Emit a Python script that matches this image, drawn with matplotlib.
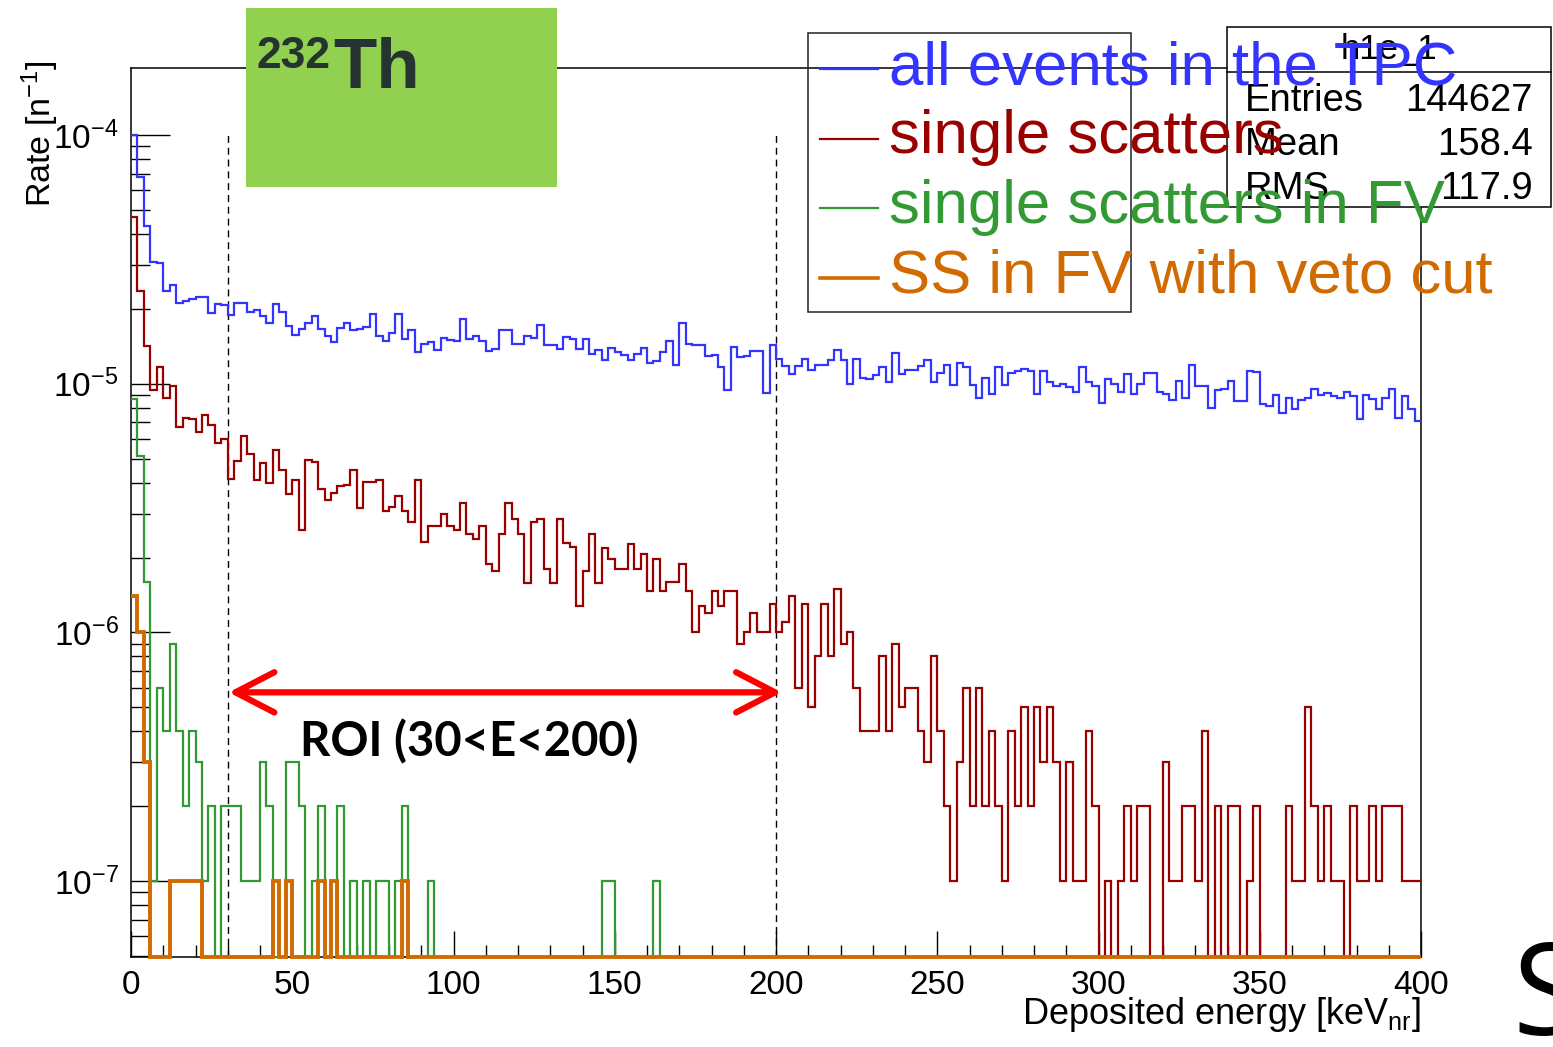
import numpy as np
import matplotlib
matplotlib.use("Agg")
import matplotlib.pyplot as plt
from matplotlib import font_manager
from matplotlib.patches import Rectangle
from matplotlib.lines import Line2D
from matplotlib.ticker import LogLocator, MultipleLocator, NullFormatter

names = {f.name for f in font_manager.fontManager.ttflist}
SANS = "Liberation Sans"
NARROW = "Liberation Sans Narrow" if "Liberation Sans Narrow" in names else None
plt.rcParams["font.family"] = [SANS, "DejaVu Sans"]
plt.rcParams["mathtext.fontset"] = "custom"
plt.rcParams["mathtext.rm"] = SANS
plt.rcParams["mathtext.it"] = SANS + ":italic"
plt.rcParams["mathtext.bf"] = SANS + ":bold"

# ---- data: rate per 2 keV bin, 0..400 keVnr (200 bins) ----
bin_width = 2.0
n_bins = 200

all_tpc = [1.0e-4, 6.8e-5, 4.3e-5, 3.1e-5, 3.05e-5, 2.37e-5, 2.5e-5, 2.12e-5, 2.15e-5, 2.19e-5,
           2.23e-5, 2.23e-5, 1.92e-5, 2.1e-5, 2.07e-5, 1.89e-5, 2.12e-5, 2.11e-5, 1.94e-5, 1.97e-5,
           1.87e-5, 1.75e-5, 2.1e-5, 1.95e-5, 1.7e-5, 1.57e-5, 1.66e-5, 1.76e-5, 1.87e-5, 1.66e-5,
           1.56e-5, 1.47e-5, 1.67e-5, 1.76e-5, 1.65e-5, 1.66e-5, 1.69e-5, 1.9e-5, 1.55e-5, 1.49e-5,
           1.6e-5, 1.9e-5, 1.51e-5, 1.65e-5, 1.34e-5, 1.45e-5, 1.47e-5, 1.37e-5, 1.52e-5, 1.5e-5,
           1.48e-5, 1.82e-5, 1.51e-5, 1.56e-5, 1.48e-5, 1.35e-5, 1.38e-5, 1.65e-5, 1.65e-5, 1.45e-5,
           1.45e-5, 1.55e-5, 1.53e-5, 1.73e-5, 1.43e-5, 1.43e-5, 1.38e-5, 1.54e-5, 1.51e-5, 1.38e-5,
           1.51e-5, 1.32e-5, 1.37e-5, 1.25e-5, 1.39e-5, 1.34e-5, 1.3e-5, 1.25e-5, 1.32e-5, 1.39e-5,
           1.21e-5, 1.23e-5, 1.34e-5, 1.49e-5, 1.19e-5, 1.76e-5, 1.45e-5, 1.43e-5, 1.43e-5, 1.29e-5,
           1.3e-5, 1.17e-5, 9.4e-6, 1.4e-5, 1.28e-5, 1.29e-5, 1.35e-5, 1.35e-5, 9.2e-6, 1.43e-5,
           1.26e-5, 1.18e-5, 1.09e-5, 1.18e-5, 1.26e-5, 1.14e-5, 1.19e-5, 1.19e-5, 1.24e-5, 1.37e-5,
           1.24e-5, 1.0e-5, 1.26e-5, 1.05e-5, 1.04e-5, 1.08e-5, 1.17e-5, 1.02e-5, 1.33e-5, 1.09e-5,
           1.14e-5, 1.14e-5, 1.18e-5, 1.24e-5, 1.02e-5, 1.1e-5, 1.19e-5, 9.9e-6, 1.21e-5, 1.17e-5,
           9.9e-6, 8.8e-6, 1.05e-5, 9.1e-6, 1.17e-5, 9.9e-6, 1.1e-5, 1.13e-5, 1.15e-5, 1.13e-5,
           9.1e-6, 1.13e-5, 1.02e-5, 9.8e-6, 1.0e-5, 9.7e-6, 9.3e-6, 1.17e-5, 1.02e-5, 9.8e-6,
           8.4e-6, 1.04e-5, 1.0e-5, 9.3e-6, 1.09e-5, 9.1e-6, 1.0e-5, 1.1e-5, 1.1e-5, 9.3e-6,
           9.1e-6, 8.6e-6, 1.03e-5, 8.8e-6, 1.19e-5, 9.8e-6, 9.8e-6, 8.0e-6, 9.4e-6, 9.5e-6,
           1.03e-5, 8.5e-6, 8.5e-6, 1.13e-5, 1.11e-5, 8.3e-6, 8.1e-6, 9.0e-6, 7.6e-6, 8.8e-6,
           7.9e-6, 8.6e-6, 8.8e-6, 9.5e-6, 9.0e-6, 9.2e-6, 8.9e-6, 8.8e-6, 9.3e-6, 8.9e-6,
           7.2e-6, 9.0e-6, 8.7e-6, 7.9e-6, 8.8e-6, 9.5e-6, 7.3e-6, 8.9e-6, 7.9e-6, 7.1e-6]

single_scatters = [4.67e-5, 2.35e-5, 1.42e-5, 9.45e-6, 1.17e-5, 8.8e-6, 9.75e-6, 6.7e-6, 7.3e-6, 7.2e-6,
                   6.4e-6, 7.5e-6, 6.8e-6, 5.8e-6, 6.0e-6, 4.14e-6, 4.88e-6, 6.16e-6, 5.22e-6, 4.11e-6,
                   4.8e-6, 3.97e-6, 5.41e-6, 4.48e-6, 3.61e-6, 4.11e-6, 2.59e-6, 4.92e-6, 4.85e-6, 3.77e-6,
                   3.4e-6, 3.65e-6, 3.87e-6, 3.9e-6, 4.51e-6, 3.15e-6, 4.04e-6, 4.04e-6, 4.11e-6, 3.07e-6,
                   3.18e-6, 3.52e-6, 3.07e-6, 2.77e-6, 4.11e-6, 2.3e-6, 2.68e-6, 2.68e-6, 3.0e-6, 2.67e-6,
                   2.59e-6, 3.31e-6, 2.49e-6, 2.38e-6, 2.67e-6, 1.89e-6, 1.77e-6, 2.48e-6, 3.31e-6, 2.87e-6,
                   2.48e-6, 1.58e-6, 2.78e-6, 2.87e-6, 1.79e-6, 1.58e-6, 2.87e-6, 2.29e-6, 2.2e-6, 1.28e-6,
                   1.77e-6, 2.48e-6, 1.58e-6, 2.18e-6, 1.98e-6, 1.79e-6, 1.79e-6, 2.27e-6, 1.79e-6, 2.07e-6,
                   1.47e-6, 1.98e-6, 1.47e-6, 1.59e-6, 1.59e-6, 1.89e-6, 1.47e-6, 1.0e-6, 1.28e-6, 1.2e-6,
                   1.47e-6, 1.28e-6, 1.47e-6, 1.47e-6, 9e-7, 1.0e-6, 1.2e-6, 1.0e-6, 1.0e-6, 1.3e-6,
                   10e-7, 11e-7, 14e-7, 6e-7, 13e-7, 5e-7, 8e-7, 13e-7, 8e-7, 15e-7,
                   9e-7, 10e-7, 6e-7, 4e-7, 4e-7, 4e-7, 8e-7, 4e-7, 9e-7, 5e-7,
                   6e-7, 6e-7, 4e-7, 3e-7, 8e-7, 4e-7, 2e-7, 1e-7, 3e-7, 6e-7,
                   2e-7, 6e-7, 2e-7, 4e-7, 2e-7, 1e-7, 4e-7, 2e-7, 5e-7, 2e-7,
                   5e-7, 3e-7, 5e-7, 3e-7, 1e-7, 3e-7, 1e-7, 1e-7, 4e-7, 2e-7,
                   0, 1e-7, 0, 1e-7, 2e-7, 1e-7, 2e-7, 2e-7, 0, 0,
                   3e-7, 1e-7, 1e-7, 2e-7, 2e-7, 1e-7, 4e-7, 0, 2e-7, 0,
                   2e-7, 2e-7, 0, 1e-7, 2e-7, 0, 0, 0, 0, 2e-7,
                   1e-7, 1e-7, 5e-7, 2e-7, 1e-7, 2e-7, 1e-7, 1e-7, 0, 2e-7,
                   1e-7, 1e-7, 2e-7, 1e-7, 2e-7, 2e-7, 2e-7, 1e-7, 1e-7, 1e-7]

# sparse series: bin index -> rate (other bins empty)
ss_fv = {0: 8.7e-6, 1: 5.14e-6, 2: 1.6e-6, 3: 1e-7, 4: 6e-7, 5: 4e-7, 6: 9e-7, 7: 4e-7, 8: 2e-7,
         9: 4e-7, 10: 3e-7, 11: 1e-7, 12: 2e-7, 14: 2e-7, 15: 2e-7, 16: 2e-7, 17: 1e-7, 18: 1e-7,
         19: 1e-7, 20: 3e-7, 21: 2e-7, 24: 3e-7, 25: 3e-7, 26: 2e-7, 28: 1e-7, 29: 2e-7, 31: 1e-7,
         32: 2e-7, 34: 1e-7, 36: 1e-7, 38: 1e-7, 39: 1e-7, 41: 1e-7, 42: 2e-7, 46: 1e-7,
         73: 1e-7, 74: 1e-7, 81: 1e-7}
ss_fv_veto = {0: 1.4e-6, 1: 1.0e-6, 2: 3e-7, 6: 1e-7, 7: 1e-7, 8: 1e-7, 9: 1e-7, 10: 1e-7,
              22: 1e-7, 24: 1e-7, 29: 1e-7, 31: 1e-7, 42: 1e-7}

labels = ["all events in the TPC", "single scatters", "single scatters in FV", "SS in FV with veto cut"]
colors = ["#3434ff", "#990000", "#339933", "#d16a00"]
roi = (30, 200)
stats = [("Entries", "144627"), ("Mean", "158.4"), ("RMS", "117.9")]

Y_MIN, Y_MAX = 4.95e-8, 1.86e-4
edges = np.arange(n_bins + 1) * bin_width

def dense(d):
    v = np.zeros(n_bins)
    for k, r in d.items():
        v[k] = r
    return v

def floored(v):
    v = np.asarray(v, float)
    return np.where(v > 0, v, Y_MIN)

W, H = 1553, 1047
fig = plt.figure(figsize=(W / 100, H / 100), dpi=100)
fx = lambda px: px / W
fy = lambda py: 1 - py / H

ax = fig.add_axes([fx(131), fy(957), fx(1421) - fx(131), fy(68) - fy(957)])
ax.set_yscale("log")
ax.set_xlim(0, 400)
ax.set_ylim(Y_MIN, Y_MAX)

series = [all_tpc, single_scatters, dense(ss_fv), dense(ss_fv_veto)]
widths = [1.6, 1.6, 1.6, 2.8]
for vals, c, lw, z in zip(series, colors, widths, [3, 3.1, 3.2, 3.3]):
    ax.stairs(floored(vals), edges, baseline=None, color=c, lw=lw, clip_on=False, zorder=z)

ax.vlines(roi, Y_MIN, 1e-4, colors="k", linestyles=(0, (5, 3.5)), lw=1, zorder=2.5)

ax.annotate("", xy=(roi[0] + 0.3, 5.74e-7), xytext=(roi[1] + 1.8, 5.74e-7),
            arrowprops=dict(arrowstyle="<->,head_length=2.8,head_width=1.45", color="#ff0000",
                            lw=4.5, shrinkA=0, shrinkB=0, capstyle="round", joinstyle="round"),
            zorder=6)

for s in ax.spines.values():
    s.set_linewidth(1.1)
ax.xaxis.set_major_locator(MultipleLocator(50))
ax.xaxis.set_minor_locator(MultipleLocator(10))
ax.yaxis.set_major_locator(LogLocator(base=10, numticks=10))
ax.yaxis.set_minor_locator(LogLocator(base=10, subs=np.arange(2, 10), numticks=20))
ax.yaxis.set_minor_formatter(NullFormatter())
ax.tick_params(axis="x", which="major", direction="in", length=19, width=1, labelsize=24, pad=9, top=False)
ax.tick_params(axis="x", which="minor", direction="in", length=9, width=1, top=False)
ax.tick_params(axis="y", which="major", direction="in", length=28, width=1, labelsize=24, pad=9, right=False)
ax.tick_params(axis="y", which="minor", direction="in", length=14, width=1, right=False)

fig.text(fx(40), fy(60), "Rate [n$^{-1}$]", rotation=90, ha="center", va="top", fontsize=24.5)
fig.text(fx(1421), fy(1015), r"Deposited energy [keV$_{\mathregular{nr}}$]", ha="right", va="center", fontsize=26)

fig.text(fx(300), fy(742), "ROI (30<E<200)", fontsize=34, fontweight="bold",
         family=["Lato", SANS], ha="left", va="center", zorder=6)

# stats box
fig.add_artist(Rectangle((fx(1227), fy(207)), fx(1551) - fx(1227), (207 - 27) / H,
                         transform=fig.transFigure, facecolor="white", edgecolor="black", lw=1.1, zorder=4))
fig.add_artist(Line2D([fx(1227), fx(1551)], [fy(72), fy(72)], transform=fig.transFigure,
                      color="black", lw=1.1, zorder=4.1))
fig.text(fx(1389), fy(50), "h1e_1", ha="center", va="center", fontsize=25, zorder=4.2)
for i, (k, v) in enumerate(stats):
    yb = 111 + i * 44
    fig.text(fx(1245), fy(yb), k, ha="left", va="baseline", fontsize=27.5, zorder=4.2)
    fig.text(fx(1533), fy(yb), v, ha="right", va="baseline", fontsize=27.5, zorder=4.2)

# legend
fig.add_artist(Rectangle((fx(808), fy(312)), fx(1131) - fx(808), (312 - 33) / H,
                         transform=fig.transFigure, facecolor="none", edgecolor="#222222", lw=1.1, zorder=5))
for i, (lab, c) in enumerate(zip(labels, colors)):
    base = 84 + i * 69.5
    fig.add_artist(Line2D([fx(820), fx(878)], [fy(base - 15), fy(base - 15)], transform=fig.transFigure,
                          color=c, lw=2.6 if i == 3 else 1.6, zorder=5.1))
    fig.text(fx(889), fy(base), lab, color=c, fontsize=44.5, ha="left", va="baseline", zorder=5.2)

# isotope tag
fig.add_artist(Rectangle((fx(246), fy(187)), fx(557) - fx(246), (187 - 8) / H,
                         transform=fig.transFigure, facecolor="#92d050", edgecolor="none", zorder=4))
if NARROW:
    fig.text(fx(256), fy(68), "232", family=NARROW, fontweight="bold", fontsize=38, color="#263431",
             va="baseline", zorder=4.5)
    fig.text(fx(333), fy(88), "Th", family=NARROW, fontweight="bold", fontsize=57, color="#263431",
             va="baseline", zorder=4.5)
else:
    fig.text(fx(256), fy(68), "232", fontweight="bold", fontsize=32, color="#263431",
             va="baseline", zorder=4.5)
    fig.text(fx(333), fy(88), "Th", fontweight="bold", fontsize=51, color="#263431",
             va="baseline", zorder=4.5)

fig.text(fx(1512), fy(1035), "S", fontsize=92, family=["Open Sans", SANS], fontweight="normal",
         va="baseline", ha="left")

fig.savefig("out.png", dpi=100)
